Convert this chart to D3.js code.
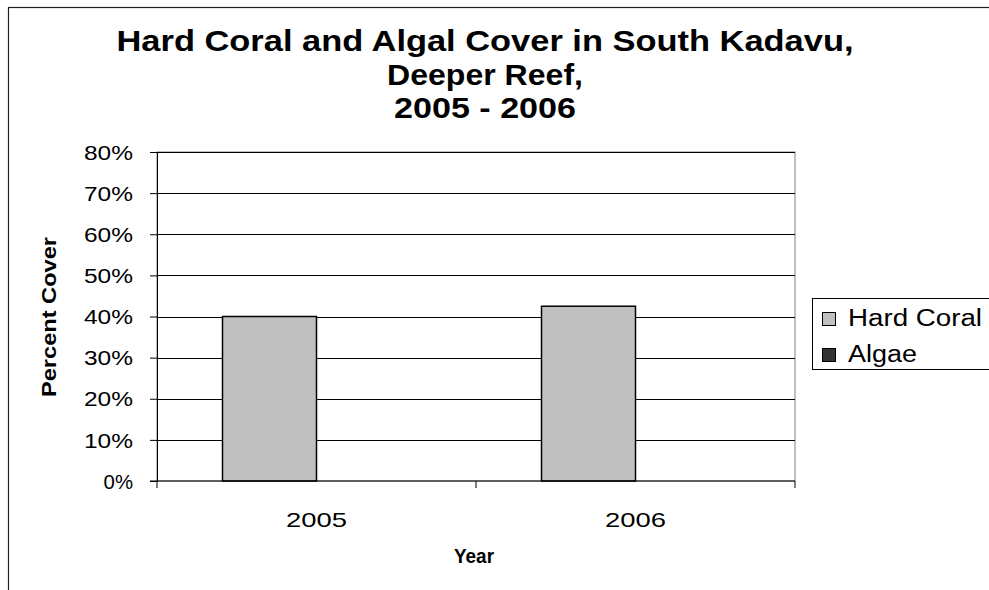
<!DOCTYPE html>
<html>
<head>
<meta charset="utf-8">
<script src="https://cdn.jsdelivr.net/npm/d3@7"></script>
<style>
  body { margin: 0; background: #fff; }
  text { font-family: "Liberation Sans", Arial, sans-serif; fill: #000; }
</style>
</head>
<body>
<div id="chart"></div>
<script>
const years = ["2005", "2006"];
const seriesNames = ["Hard Coral", "Algae"];
const hardCoral = [0.40, 0.425];
const algae = [0, 0];
const yTicks = [0, 0.1, 0.2, 0.3, 0.4, 0.5, 0.6, 0.7, 0.8];
const titleLines = ["Hard Coral and Algal Cover in South Kadavu,", "Deeper Reef,", "2005 - 2006"];
const colors = { "Hard Coral": "#c0c0c0", "Algae": "#333333" };

const width = 989, height = 590;
const margin = { left: 157, right: 194, top: 152, bottom: 109 };

// the reference font runs wider than Arial, so stretch text to the measured widths
const titleWidths = [737, 196, 182];
const yTickW = 49, xTickW = 61;
const legendW = { "Hard Coral": 134, "Algae": 69 };

const svg = d3.select("#chart").append("svg").attr("width", width).attr("height", height);

// outer chart border (runs off the right and bottom)
svg.append("rect").attr("x", 8.5).attr("y", 7.5).attr("width", 1000).attr("height", 700)
  .attr("fill", "none").attr("stroke", "#222").attr("stroke-width", 1.2);

const x = d3.scaleBand().domain(years).range([margin.left, width - margin.right]).paddingInner(0).paddingOuter(0);
const xSub = d3.scaleBand().domain(seriesNames).range([0, x.bandwidth()]).paddingOuter(0.697).paddingInner(0);
const y = d3.scaleLinear().domain([0, 0.8]).range([height - margin.bottom, margin.top]);

// plot frame
svg.append("rect").attr("x", margin.left).attr("y", y(0.8)).attr("width", width - margin.right - margin.left)
  .attr("height", y(0) - y(0.8)).attr("fill", "none").attr("stroke", "#808080");

// gridlines
svg.append("g").selectAll("line").data(yTicks.slice(1)).join("line")
  .attr("x1", margin.left).attr("x2", width - margin.right)
  .attr("y1", d => Math.round(y(d)) + 0.5).attr("y2", d => Math.round(y(d)) + 0.5)
  .attr("stroke", "#000").attr("stroke-width", 1);

// bars
const data = years.map((yr, i) => ({ year: yr, values: [
  { name: "Hard Coral", value: hardCoral[i] },
  { name: "Algae", value: algae[i] }
]}));

svg.append("g").selectAll("g").data(data).join("g")
  .attr("transform", d => `translate(${x(d.year)},0)`)
  .selectAll("rect").data(d => d.values.filter(v => v.value > 0)).join("rect")
  .attr("x", d => xSub(d.name)).attr("width", xSub.bandwidth())
  .attr("y", d => y(d.value)).attr("height", d => y(0) - y(d.value))
  .attr("fill", d => colors[d.name]).attr("stroke", "#000").attr("stroke-width", 1.5);

// y axis
const yAxis = d3.axisLeft(y).tickValues(yTicks).tickFormat(d3.format(".0%")).tickSize(7).tickSizeOuter(0);
const yg = svg.append("g").attr("transform", `translate(${margin.left},0)`).call(yAxis);
yg.selectAll("text").attr("font-size", 20).attr("x", -24).attr("dy", "0.36em")
  .attr("textLength", d => d === 0 ? yTickW * 0.6 : yTickW).attr("lengthAdjust", "spacingAndGlyphs");
yg.selectAll("line").attr("stroke", "#000");
yg.select(".domain").attr("stroke", "#000");

// x axis
const xg = svg.append("g").attr("transform", `translate(0,${y(0)})`);
xg.append("line").attr("x1", margin.left - 7).attr("x2", width - margin.right).attr("stroke", "#000");
xg.selectAll("line.sep").data([margin.left, x("2006"), width - margin.right]).join("line")
  .attr("class", "sep").attr("x1", d => d).attr("x2", d => d).attr("y1", 0).attr("y2", 7)
  .attr("stroke", "#000");
xg.selectAll("text.lbl").data(years).join("text").attr("class", "lbl")
  .attr("x", d => x(d) + x.bandwidth() / 2).attr("y", 46)
  .attr("text-anchor", "middle").attr("font-size", 21)
  .attr("textLength", xTickW).attr("lengthAdjust", "spacingAndGlyphs").text(d => d);

// titles
svg.append("g").selectAll("text").data(titleLines).join("text")
  .attr("x", 485).attr("y", (d, i) => 51 + i * 33.5)
  .attr("text-anchor", "middle").attr("font-size", 30).attr("font-weight", "bold")
  .attr("textLength", (d, i) => titleWidths[i]).attr("lengthAdjust", "spacingAndGlyphs").text(d => d);

svg.append("text").attr("transform", `translate(56,317) rotate(-90)`)
  .attr("text-anchor", "middle").attr("font-size", 20).attr("font-weight", "bold")
  .attr("textLength", 160).attr("lengthAdjust", "spacingAndGlyphs").text("Percent Cover");

svg.append("text").attr("x", 474).attr("y", 563)
  .attr("text-anchor", "middle").attr("font-size", 21).attr("font-weight", "bold")
  .attr("textLength", 40).attr("lengthAdjust", "spacingAndGlyphs").text("Year");

// legend
const lg = svg.append("g").attr("transform", "translate(812,298)");
lg.append("rect").attr("x", 0.5).attr("y", 0.5).attr("width", 200).attr("height", 71)
  .attr("fill", "#fff").attr("stroke", "#000");
const items = lg.selectAll("g").data(seriesNames).join("g")
  .attr("transform", (d, i) => `translate(10,${28 + i * 36})`);
items.append("rect").attr("x", 0.5).attr("y", -13.5).attr("width", 13).attr("height", 13)
  .attr("fill", d => colors[d]).attr("stroke", "#000");
items.append("text").attr("x", 26).attr("y", 0).attr("font-size", 23)
  .attr("textLength", d => legendW[d]).attr("lengthAdjust", "spacingAndGlyphs").text(d => d);
</script>
</body>
</html>
